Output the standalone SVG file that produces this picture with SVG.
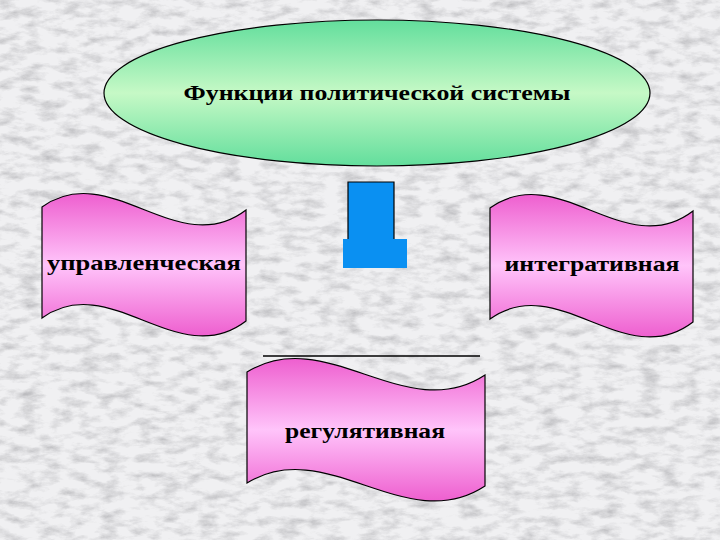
<svg xmlns="http://www.w3.org/2000/svg" width="720" height="540" viewBox="0 0 720 540">
  <style>
    .lbl { font-family: "Liberation Serif", "DejaVu Serif", "Times New Roman", serif; font-weight: bold; font-size: 22px; fill: #000; text-anchor: middle; }
    .banner { fill: url(#pink); stroke: #000; stroke-width: 1.2; }
  </style>
  <defs>
    <filter id="marble" x="0" y="0" width="100%" height="100%">
      <feTurbulence type="fractalNoise" baseFrequency="0.05 0.11" numOctaves="5" seed="11" result="n"/>
      <feColorMatrix in="n" type="matrix" values="0 0 0 0 0.5  0 0 0 0 0.5  0 0 0 0 0.52  1.9 0 0 0 -0.8" result="m"/>
      <feComposite in="m" in2="SourceGraphic" operator="atop"/>
    </filter>
    <linearGradient id="green" x1="0" y1="0" x2="0" y2="1">
      <stop offset="0" stop-color="#62DE9C"/>
      <stop offset="0.5" stop-color="#C6F9C6"/>
      <stop offset="1" stop-color="#62DE9C"/>
    </linearGradient>
    <linearGradient id="pink" x1="0" y1="0" x2="0" y2="1">
      <stop offset="0" stop-color="#EE5FCF"/>
      <stop offset="0.5" stop-color="#FFC4FA"/>
      <stop offset="1" stop-color="#EE5FCF"/>
    </linearGradient>
  </defs>

  <rect id="background" x="0" y="0" width="720" height="540" fill="#F0F0F2" filter="url(#marble)"/>

  <g id="title">
    <ellipse cx="377" cy="93" rx="273" ry="73" fill="url(#green)" stroke="#000" stroke-width="1.2"/>
    <text class="lbl" x="377" y="100" textLength="387" lengthAdjust="spacingAndGlyphs">Функции политической системы</text>
  </g>

  <g id="connectors">
    <rect x="343" y="239" width="64" height="29" fill="#0A90F2"/>
    <path d="M348,239 V182 H394 V239" fill="#0A90F2" stroke="#000" stroke-width="1.2"/>
    <line x1="263" y1="356" x2="480" y2="356" stroke="#000" stroke-width="1.5"/>
  </g>

  <g id="upravlencheskaya" transform="translate(42,192)">
    <path class="banner" d="M0,15 C68,-34 136,70 204,18 L204,129 C136,181 68,77 0,126 Z"/>
    <text class="lbl" x="102" y="78" textLength="194" lengthAdjust="spacingAndGlyphs">управленческая</text>
  </g>

  <g id="integrativnaya" transform="translate(490,193)">
    <path class="banner" d="M0,15 C68,-34 135,70 203,18 L203,129 C135,181 68,77 0,126 Z"/>
    <text class="lbl" x="102" y="78" textLength="175" lengthAdjust="spacingAndGlyphs">интегративная</text>
  </g>

  <g id="regulyativnaya" transform="translate(247,357)">
    <path class="banner" d="M0,15 C79,-34 159,70 238,18 L238,129 C159,181 79,77 0,126 Z"/>
    <text class="lbl" x="118" y="81" textLength="160" lengthAdjust="spacingAndGlyphs">регулятивная</text>
  </g>
</svg>
